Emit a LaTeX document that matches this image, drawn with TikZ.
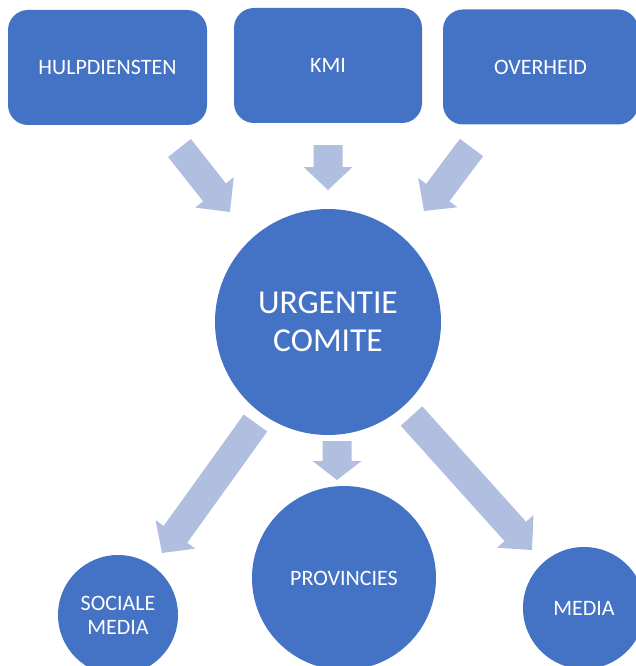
\documentclass[tikz,border=0pt]{standalone}
\usepackage{fontspec}
\setmainfont{Carlito}
\usetikzlibrary{calc}
\definecolor{mainblue}{HTML}{4472C4}
\definecolor{arrowc}{HTML}{B0BEE0}
\tikzset{
  box/.style={draw=none, fill=mainblue, rounded corners=20pt, minimum height=115pt, text=white, font=\fontsize{22}{24}\selectfont, inner sep=0pt},
  disc/.style={circle, draw=none, fill=mainblue, text=white, align=center, font=\fontsize{22}{24}\selectfont, inner sep=0pt},
}
\newcommand\blockarr[3]{%
  \coordinate (hb) at ($(#2)!#3!(#1)$);
  \fill[arrowc] ($(#1)!14.5pt!90:(#2)$) -- ($(hb)!14.5pt!90:(#2)$) -- ($(hb)!24.5pt!90:(#2)$) -- (#2)
    -- ($(hb)!24.5pt!-90:(#2)$) -- ($(hb)!14.5pt!-90:(#2)$) -- ($(#1)!14.5pt!-90:(#2)$) -- cycle;
}
\begin{document}
\begin{tikzpicture}[x=1pt, y=-1pt]
\useasboundingbox (0,0) rectangle (636,666);
\clip (0,0) rectangle (636,666);
% top boxes
\node[box, minimum width=199pt] (hulp) at (107.5,67.5) {HULPDIENSTEN};
\node[box, minimum width=188pt] (kmi) at (328,65.5) {KMI};
\node[box, minimum width=195pt] (over) at (540.5,67) {OVERHEID};
% central circle
\node[disc, minimum size=226pt, font=\fontsize{33.5}{38}\selectfont] (urg) at (328,322) {URGENTIE\\COMITE};
% bottom circles
\node[disc, minimum size=120pt] (soc) at (118,615) {SOCIALE\\MEDIA};
\node[disc, minimum size=184pt] (prov) at (344,578) {PROVINCIES};
\node[disc, minimum size=122pt] (media) at (584,608) {MEDIA};
% arrow coordinates
\coordinate (a1s) at (179.5,148); \coordinate (a1t) at (230,212);
\coordinate (a2s) at (328,145);   \coordinate (a2t) at (328,190);
\coordinate (a3s) at (471.5,147.5); \coordinate (a3t) at (424,211);
\coordinate (b1s) at (255.5,423); \coordinate (b1t) at (162,553);
\coordinate (b2s) at (337,441);   \coordinate (b2t) at (337,480);
\coordinate (b3s) at (411.5,416); \coordinate (b3t) at (532,550);
\blockarr{a1s}{a1t}{25pt}
\blockarr{a2s}{a2t}{23pt}
\blockarr{a3s}{a3t}{23pt}
\blockarr{b1s}{b1t}{23pt}
\blockarr{b2s}{b2t}{19pt}
\blockarr{b3s}{b3t}{25pt}
\end{tikzpicture}
\end{document}
